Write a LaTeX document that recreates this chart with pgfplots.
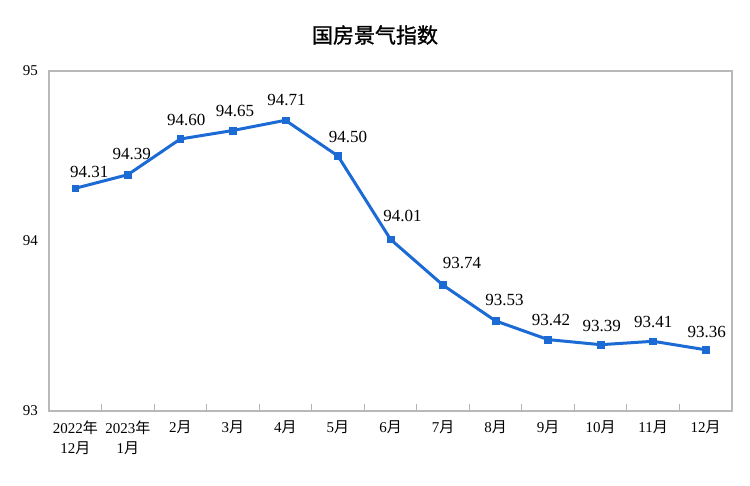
\documentclass[border=0pt]{standalone}
\usepackage{pgfplots}
\usepackage{pgfplotstable}
\pgfplotsset{compat=1.18}
\usepackage{fontspec}
\setmainfont{Liberation Serif}
\newfontfamily\cjk{Noto Sans CJK SC}
\newfontfamily\cjktitle[FakeBold=1.2]{Noto Sans CJK SC}
\newcommand\Y{{\cjk 年}}
\newcommand\M{{\cjk 月}}
\definecolor{lineblue}{RGB}{28,106,212}
\pgfplotstableread{
x y dx dy lab
0 94.31 7 8 94.31
1 94.39 2 10.5 94.39
2 94.60 3 9.5 94.60
3 94.65 1 10 94.65
4 94.71 0.5 10 94.71
5 94.50 5 9.5 94.50
6 94.01 6 11.5 94.01
7 93.74 9.5 11 93.74
8 93.53 4.5 10.5 93.53
9 93.42 1.5 10 93.42
10 93.39 0.5 9.5 93.39
11 93.41 0 9.5 93.41
12 93.36 0.5 9 93.36
}\datatable
\begin{document}
\begin{tikzpicture}
\useasboundingbox (-24.5pt,-37.5pt) rectangle (350.5pt,205.5pt);
\begin{axis}[
  at={(0,0)}, anchor=south west,
  scale only axis, width=341.5pt, height=170pt,
  xmin=-0.5, xmax=12.5, ymin=93, ymax=95,
  ytick={93,94,95},
  xtick={0,...,12},
  xticklabels={{2022\Y\\12\M},{2023\Y\\1\M},2\M,3\M,4\M,5\M,6\M,7\M,8\M,9\M,10\M,11\M,12\M},
  minor xtick={0.5,1.5,...,11.5},
  major x tick style={draw=none},
  minor x tick style={gray!60, line width=0.5pt},
  minor tick length=3.5pt,
  tick align=inside,
  tick pos=left,
  y tick style={draw=none},
  axis line style={gray!55, line width=0.6pt},
  xticklabel style={align=center, font=\fontsize{7.5}{10}\selectfont, yshift=-1.5pt},
  yticklabel style={font=\fontsize{7.5}{9}\selectfont, xshift=-2pt},
  /pgf/number format/assume math mode=true,
  clip=false,
]
\addplot[lineblue, line width=1.5pt, mark=square*, mark size=1.7pt,
  mark options={fill=lineblue, draw=lineblue, line width=0.3pt},
  point meta=explicit symbolic,
  visualization depends on={\thisrow{dx} \as \dx},
  visualization depends on={\thisrow{dy} \as \dy},
  nodes near coords,
  nodes near coords style={anchor=center, xshift=\dx pt, yshift=\dy pt, text=black, font=\fontsize{8.5}{10}\selectfont, inner sep=0pt},
] table[x=x, y=y, meta=lab] {\datatable};
\end{axis}
\node at (163pt,188pt) {\cjktitle\fontsize{10.5}{12}\selectfont 国房景气指数};
\end{tikzpicture}
\end{document}
